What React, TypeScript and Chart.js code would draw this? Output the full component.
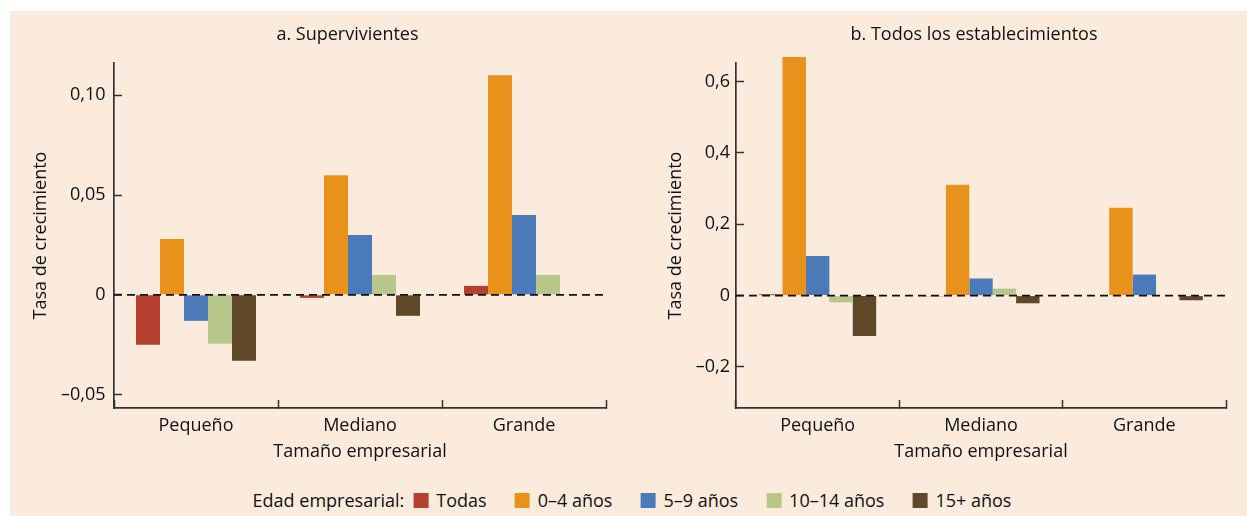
import React, { useEffect, useRef } from 'react';
import { Chart, registerables } from 'chart.js';

Chart.register(...registerables);

// ---------- data ----------
const CATEGORIES = ['Pequeño', 'Mediano', 'Grande'];
const SERIES_NAMES = ['Todas', '0–4 años', '5–9 años', '10–14 años', '15+ años'];
const SERIES_COLORS = ['#B5402D', '#E8921B', '#4A7BB8', '#B7C78A', '#614828'];

// a. Supervivientes
const SURV_TODAS = [-0.025, -0.0015, 0.0045];
const SURV_0_4 = [0.028, 0.06, 0.11];
const SURV_5_9 = [-0.013, 0.03, 0.04];
const SURV_10_14 = [-0.0245, 0.01, 0.01];
const SURV_15 = [-0.033, -0.0105, 0];

// b. Todos los establecimientos
const ALL_TODAS = [0.004, -0.002, 0];
const ALL_0_4 = [0.669, 0.311, 0.246];
const ALL_5_9 = [0.111, 0.048, 0.059];
const ALL_10_14 = [-0.019, 0.0196, 0];
const ALL_15 = [-0.113, -0.0215, -0.013];

const TICKS_A = [-0.05, 0, 0.05, 0.1];
const TICKS_B = [-0.2, 0, 0.2, 0.4, 0.6];
const RANGE_A = [-0.0567, 0.1162];
const RANGE_B = [-0.315, 0.652];

const TITLE_A = 'a. Supervivientes';
const TITLE_B = 'b. Todos los establecimientos';
const Y_TITLE = 'Tasa de crecimiento';
const X_TITLE = 'Tamaño empresarial';
const LEGEND_TITLE = 'Edad empresarial:';

// ---------- style ----------
const FONT = '"Open Sans", sans-serif';
const FONT_SIZE = 18;
const TEXT = '#111111';
const AXIS = '#333333';
const BG = '#FAEBDD';

const zeroLine = {
  id: 'zeroLine',
  afterDatasetsDraw(chart: any) {
    const y = chart.scales.y.getPixelForValue(0);
    const { left, right } = chart.chartArea;
    const ctx = chart.ctx;
    ctx.save();
    ctx.beginPath();
    ctx.setLineDash([8, 5]);
    ctx.lineWidth = 1.8;
    ctx.strokeStyle = '#111';
    ctx.moveTo(left, y);
    ctx.lineTo(right, y);
    ctx.stroke();
    ctx.restore();
  },
};

function fmt(v: number, dec: number) {
  if (Math.abs(v) < 1e-9) return '0';
  return (v < 0 ? '–' : '') + Math.abs(v).toFixed(dec).replace('.', ',');
}

type PanelProps = {
  series: number[][];
  ticks: number[];
  range: number[];
  dec: number;
  width: number;
  height: number;
  left: number;
  yWidth: number;
  padRight: number;
  yTitlePad: number;
  tickPad: number;
  catPct: number;
};

function Panel(p: PanelProps) {
  const ref = useRef<HTMLCanvasElement>(null);
  useEffect(() => {
    if (!ref.current) return;
    const font = { family: FONT, size: FONT_SIZE };
    const chart = new Chart(ref.current, {
      type: 'bar',
      data: {
        labels: CATEGORIES,
        datasets: p.series.map((vals, i) => ({
          label: SERIES_NAMES[i],
          data: vals,
          backgroundColor: SERIES_COLORS[i],
          borderWidth: 0,
          clip: false as any,
        })),
      },
      options: {
        responsive: false,
        animation: false,
        layout: { padding: { left: 0, top: 52, right: p.padRight, bottom: 0 } },
        plugins: {
          legend: { display: false },
          tooltip: { enabled: false },
          title: { display: false },
        },
        datasets: { bar: { categoryPercentage: p.catPct, barPercentage: 1 } },
        scales: {
          x: {
            type: 'category',
            offset: true,
            grid: {
              display: true,
              offset: true,
              drawOnChartArea: false,
              drawTicks: true,
              tickLength: -8,
              tickColor: AXIS,
              tickWidth: 1.5,
            },
            border: { display: true, color: AXIS, width: 1.7 },
            ticks: { color: TEXT, font, padding: 15, maxRotation: 0, autoSkip: false },
            title: {
              display: true,
              text: X_TITLE,
              color: TEXT,
              font,
              padding: { top: 0, bottom: 7 },
            },
            afterFit: (s: any) => {
              s.height = 62;
            },
          },
          y: {
            type: 'linear',
            min: p.range[0],
            max: p.range[1],
            afterBuildTicks: (s: any) => {
              s.ticks = p.ticks.map((v) => ({ value: v }));
            },
            grid: {
              display: true,
              drawOnChartArea: false,
              drawTicks: true,
              tickLength: -8,
              tickColor: AXIS,
              tickWidth: 1.5,
            },
            border: { display: true, color: AXIS, width: 1.7 },
            ticks: {
              color: TEXT,
              font,
              padding: p.tickPad,
              callback: (v: any) => fmt(Number(v), p.dec),
            },
            title: {
              display: true,
              text: Y_TITLE,
              color: TEXT,
              font,
              padding: { top: p.yTitlePad, bottom: 0 },
            },
            afterFit: (s: any) => {
              s.width = p.yWidth;
            },
          },
        },
      } as any,
      plugins: [zeroLine],
    });
    return () => chart.destroy();
  }, []);
  return (
    <canvas
      ref={ref}
      width={p.width}
      height={p.height}
      style={{ position: 'absolute', left: p.left, top: 0, width: p.width, height: p.height }}
    />
  );
}

const titleStyle = (cx: number): React.CSSProperties => ({
  position: 'absolute',
  left: cx,
  top: 12,
  transform: 'translateX(-50%)',
  whiteSpace: 'nowrap',
  fontSize: FONT_SIZE,
  lineHeight: '20px',
  color: TEXT,
});

export default function App() {
  return (
    <div
      style={{
        position: 'absolute',
        left: 0,
        top: 0,
        width: 1247,
        height: 516,
        background: '#fff',
        overflow: 'hidden',
        fontFamily: FONT,
      }}
    >
      <div style={{ position: 'absolute', left: 10, top: 11, width: 1237, height: 505, background: BG }}>
        <Panel
          series={[SURV_TODAS, SURV_0_4, SURV_5_9, SURV_10_14, SURV_15]}
          ticks={TICKS_A}
          range={RANGE_A}
          dec={2}
          width={640}
          height={459}
          left={0}
          yWidth={104}
          padRight={44}
          yTitlePad={19.8}
          tickPad={16.5}
          catPct={120 / 164}
        />
        <Panel
          series={[ALL_TODAS, ALL_0_4, ALL_5_9, ALL_10_14, ALL_15]}
          ticks={TICKS_B}
          range={RANGE_B}
          dec={1}
          width={597}
          height={459}
          left={640}
          yWidth={86}
          padRight={21}
          yTitlePad={14.8}
          tickPad={14}
          catPct={117 / 163.3}
        />
        <div style={titleStyle(337.5)}>{TITLE_A}</div>
        <div style={titleStyle(964)}>{TITLE_B}</div>
        <div
          style={{
            position: 'absolute',
            left: 622,
            top: 479,
            transform: 'translateX(-50%)',
            display: 'flex',
            alignItems: 'center',
            whiteSpace: 'nowrap',
            fontSize: FONT_SIZE,
            lineHeight: '20px',
            color: TEXT,
          }}
        >
          <span style={{ marginRight: 9 }}>{LEGEND_TITLE}</span>
          {SERIES_NAMES.map((name, i) => (
            <span
              key={name}
              style={{ display: 'flex', alignItems: 'center', marginRight: i < SERIES_NAMES.length - 1 ? 28 : 0 }}
            >
              <span
                style={{ display: 'inline-block', width: 15, height: 15, background: SERIES_COLORS[i], marginRight: 8 }}
              />
              <span>{name}</span>
            </span>
          ))}
        </div>
      </div>
    </div>
  );
}
